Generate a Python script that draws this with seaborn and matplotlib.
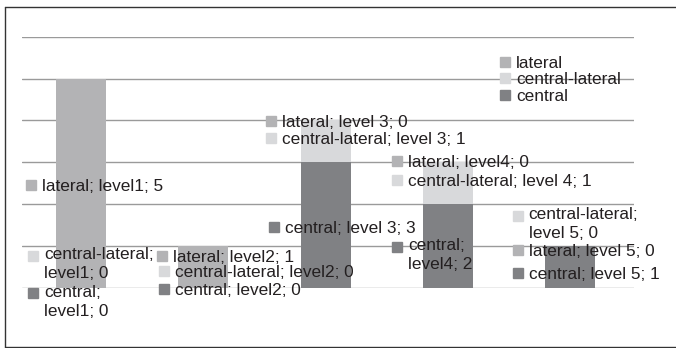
import matplotlib
matplotlib.use("Agg")
import matplotlib.pyplot as plt
import matplotlib.transforms as mtransforms
from matplotlib.lines import Line2D
import seaborn as sns
import numpy as np

# ---- data ----
categories = ["level1", "level2", "level3", "level4", "level5"]
series_names = ["lateral", "central-lateral", "central"]
central = [0, 0, 3, 2, 1]
central_lateral = [0, 0, 1, 1, 0]
lateral = [5, 1, 0, 0, 0]

# category spellings used inside the data labels (as in the original)
lateral_cat_text = ["level1", "level2", "level 3", "level4", "level 5"]
central_lateral_cat_text = ["level1", "level2", "level 3", "level 4", "level 5"]
central_cat_text = ["level1", "level2", "level 3", "level4", "level 5"]
# whether the label wraps after the series name
lateral_wrap = [False, False, False, False, False]
central_lateral_wrap = [True, False, False, False, True]
central_wrap = [True, False, False, True, False]

# label anchor (x offset from bar centre, first-line baseline y in data units)
lateral_pos = [(-0.317, 2.31), (-0.246, 0.603), (-0.358, 3.847), (-0.326, 2.876), (-0.337, 0.754)]
central_lateral_pos = [(-0.300, 0.617), (-0.23, 0.244), (-0.356, 3.426), (-0.326, 2.435), (-0.340, 1.574)]
central_pos = [(-0.300, -0.282), (-0.23, -0.179), (-0.331, 1.311), (-0.326, 0.833), (-0.337, 0.211)]

col_lateral = "#b3b3b5"
col_central_lateral = "#d8d9db"
col_central = "#808184"
text_col = "#231f20"

sns.set_theme(style="white")
plt.rcParams["font.family"] = ["Liberation Sans", "DejaVu Sans"]

fig = plt.figure(figsize=(6.76, 3.48), dpi=100)
ax = fig.add_axes([22 / 676, (348 - 287.5) / 348, 612 / 676, (287.5 - 36.7) / 348])

c = np.array(central)
cl = np.array(central_lateral)
la = np.array(lateral)
bar_w = 50 / 122.4

# stacked bars drawn as cumulative totals, tallest first
sns.barplot(x=categories, y=c + cl + la, color=col_lateral, saturation=1,
            width=bar_w, ax=ax, zorder=2, linewidth=0)
sns.barplot(x=categories, y=c + cl, color=col_central_lateral, saturation=1,
            width=bar_w, ax=ax, zorder=2, linewidth=0)
sns.barplot(x=categories, y=c, color=col_central, saturation=1,
            width=bar_w, ax=ax, zorder=2, linewidth=0)

ax.set_xlim(-0.48, 4.52)
ax.set_ylim(0, 6)
ax.set_yticks(range(0, 7))
ax.yaxis.grid(True, color="#9a9a9a", linewidth=1.0, zorder=0)
ax.set_axisbelow(True)
ax.set_xticks([])
ax.set_yticklabels([])
ax.tick_params(left=False, bottom=False)
ax.set_xlabel("")
ax.set_ylabel("")
for s in ax.spines.values():
    s.set_visible(False)

fs = 12.4
line_px = 16.7
marker_trans = ax.transData + mtransforms.ScaledTranslation(-11 / 100, 6 / 100, fig.dpi_scale_trans)

def draw_labels(name, values, cat_text, wrap, pos, color):
    for i, (v, ct, w, (dx, y)) in enumerate(zip(values, cat_text, wrap, pos)):
        sep = "\n" if w else " "
        txt = f"{name};{sep}{ct}; {v}"
        nl = txt.count("\n")
        # baseline alignment uses the last line: shift so the first line sits at y
        ttrans = ax.transData + mtransforms.ScaledTranslation(0, -nl * line_px / 100, fig.dpi_scale_trans)
        ax.text(i + dx, y, txt, ha="left", va="baseline", fontsize=fs,
                color=text_col, clip_on=False, zorder=5, linespacing=1.35,
                transform=ttrans)
        ax.plot([i + dx], [y], marker="s", markersize=7.2, color=color,
                linestyle="none", transform=marker_trans, clip_on=False, zorder=4)

draw_labels("lateral", lateral, lateral_cat_text, lateral_wrap, lateral_pos, col_lateral)
draw_labels("central-lateral", central_lateral, central_lateral_cat_text,
            central_lateral_wrap, central_lateral_pos, col_central_lateral)
draw_labels("central", central, central_cat_text, central_wrap, central_pos, col_central)

handles = [Line2D([], [], marker="s", markersize=7.2, linestyle="none", color=col)
           for col in (col_lateral, col_central_lateral, col_central)]
leg = ax.legend(handles, series_names, loc="upper left",
                bbox_to_anchor=(500 / 676, 1 - 56 / 348), bbox_transform=fig.transFigure,
                frameon=False, fontsize=fs, borderpad=0, borderaxespad=0,
                handlelength=0.6, handletextpad=0.35, labelspacing=0.08)
for t in leg.get_texts():
    t.set_color(text_col)

# outer frame (left, top, bottom)
W, H = 676, 348
for xs, ys in [((5, 5), (6.5, 346.5)), ((5, 680), (6.5, 6.5)), ((5, 680), (346.5, 346.5))]:
    fig.add_artist(Line2D([x / W for x in xs], [1 - y / H for y in ys],
                          transform=fig.transFigure, color="#333333", linewidth=1.0))

fig.savefig("out.png", dpi=100)
